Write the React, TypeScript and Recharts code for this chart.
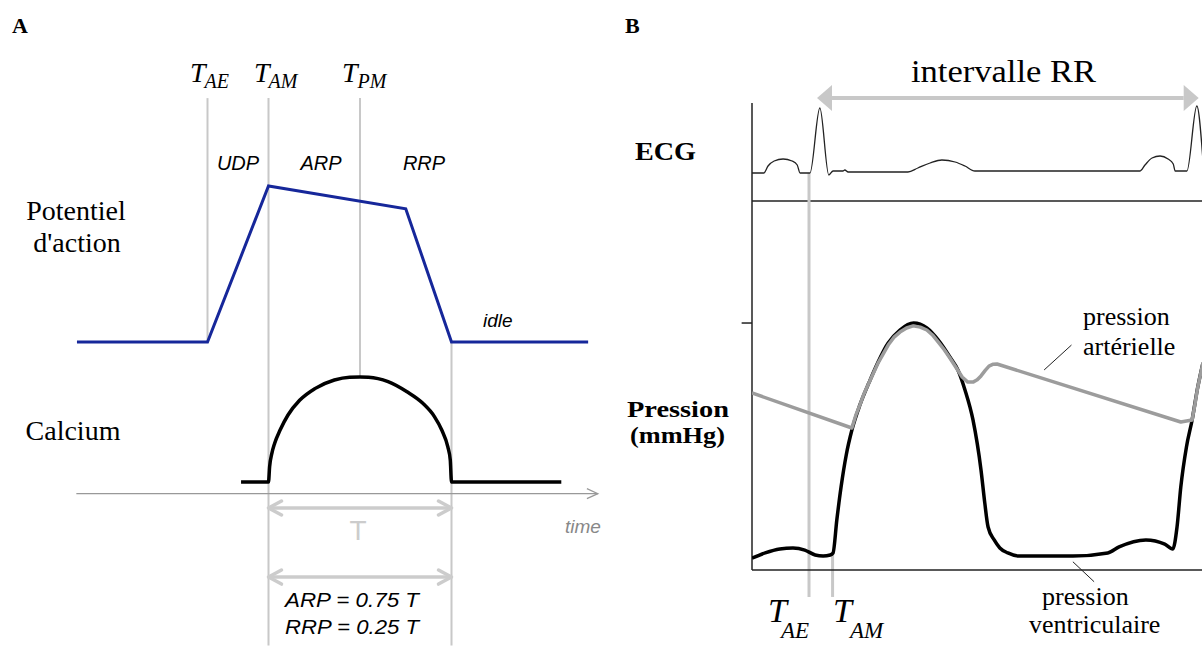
import React from 'react';
import { ComposedChart, Line, XAxis, YAxis, ReferenceLine } from 'recharts';

// ---------- Panel A : schematic action potential (ms, mV) and calcium (µM) ----------
const apTime = [-214, 0, 100, 325, 400, 624];
const apValue = [-85, -85, 25, 9, -85, -85];

const caTime = [55, 100, 101.8, 105.5, 110, 119, 132, 151, 176, 208, 233, 250, 264, 296, 327, 353, 372, 384, 394, 398, 400, 580];
const caValue = [0.1, 0.1, 0.23, 0.345, 0.43, 0.545, 0.674, 0.8, 0.9, 0.974, 0.998, 1.0, 0.998, 0.96, 0.873, 0.774, 0.66, 0.545, 0.4, 0.288, 0.1, 0.1];

// event times in panel A (ms): T_AE, T_AM, T_PM, end of RRP
const tAE = 0;
const tAM = 100;
const tPM = 250;
const tEnd = 400;
const timeAxisStart = -215;
const timeAxisEnd = 640;

// ---------- Panel B : ECG (mV) and pressures (mmHg) over one RR interval (ms) ----------
const ecgTime = [0, 25, 34, 47, 66, 85, 96, 102, 123, 144, 163, 172, 193, 197, 204, 331, 352, 378, 403, 431, 452, 473, 823, 834, 849, 866, 883, 894, 898, 923, 944, 957];
const ecgValue = [0, 0, 0.14, 0.24, 0.28, 0.24, 0.16, 0, 0, 1.3, -0.04, 0.04, 0.04, 0.06, 0.02, 0.02, 0.1, 0.2, 0.26, 0.22, 0.14, 0.04, 0.04, 0.16, 0.3, 0.34, 0.28, 0.18, 0.04, 0.04, 1.34, 0.26];

const ventTime = [0, 28, 59, 87, 112, 134, 151, 166, 172, 180, 189, 200, 212, 229, 248, 289, 314, 343, 371, 395, 420, 437, 452, 469, 486, 494, 501, 514, 526, 543, 567, 681, 755, 779, 836, 876, 893, 902, 910, 922, 934, 946, 957];
const ventValue = [5.8, 8.3, 10.2, 10.7, 9.7, 7.3, 6.8, 7.3, 8.3, 24.3, 40.3, 55.9, 68, 80.2, 90.9, 110.3, 116.6, 120, 117.6, 111.8, 103.5, 97.2, 87.5, 72.9, 48.6, 32.6, 20.9, 14.6, 10.7, 8.3, 6.8, 6.8, 8.3, 11.2, 14.6, 12.6, 10.2, 20.9, 40.3, 59.8, 72.9, 88.9, 100.6];

const artTime = [0, 212, 220, 229, 238, 248, 268, 289, 301, 314, 328, 342, 357, 371, 383, 395, 408, 420, 433, 446, 458, 469, 478, 486, 495, 503, 512, 520, 910, 934, 940, 946, 957];
const artValue = [86, 69, 75, 80.2, 85.8, 90.9, 100.8, 109.3, 113, 115.6, 117.6, 118.6, 118, 116.6, 114.2, 110.8, 107, 103, 98.4, 93.8, 91.3, 91.3, 92.4, 94.3, 97, 99.1, 100, 100.1, 71.9, 72.9, 80.5, 88.9, 100.6];

const rPeak1 = 138;
const rPeak2 = 948;
const tAE_B = 121;
const tAM_B = 171;
const pressureTick = [120];

const zip = (ts: number[], vs: number[]) => ts.map((t, i) => ({ t, v: vs[i] }));
const apData = zip(apTime, apValue);
const caData = zip(caTime, caValue);
const ecgData = zip(ecgTime, ecgValue);
const ventData = zip(ventTime, ventValue);
const artData = zip(artTime, artValue);

const SERIF = "'Liberation Serif', 'Times New Roman', serif";
const SANS = "'Liberation Sans', Arial, sans-serif";
const LIGHT = '#c8c8c8';

// ---------- arrow shapes for ReferenceLine segments ----------
const openArrowEnd = (color: string, w: number, len: number, half: number) => (p: any) => {
  const { x1, y1, x2, y2 } = p;
  return (
    <g>
      <line x1={x1} y1={y1} x2={x2} y2={y2} stroke={color} strokeWidth={w} />
      <polyline points={`${x2 - len},${y2 - half} ${x2},${y2} ${x2 - len},${y2 + half}`} fill="none" stroke={color} strokeWidth={w} />
    </g>
  );
};

const openDoubleArrow = (color: string, w: number, len: number, half: number) => (p: any) => {
  const { x1, y1, x2, y2 } = p;
  return (
    <g>
      <line x1={x1 + 1} y1={y1} x2={x2 - 1} y2={y2} stroke={color} strokeWidth={w} />
      <polyline points={`${x2 - len},${y2 - half} ${x2},${y2} ${x2 - len},${y2 + half}`} fill="none" stroke={color} strokeWidth={w} strokeLinejoin="round" strokeLinecap="round" />
      <polyline points={`${x1 + len},${y1 - half} ${x1},${y1} ${x1 + len},${y1 + half}`} fill="none" stroke={color} strokeWidth={w} strokeLinejoin="round" strokeLinecap="round" />
    </g>
  );
};

const filledDoubleArrow = (color: string, w: number, len: number, half: number) => (p: any) => {
  const { x1, y1, x2, y2 } = p;
  return (
    <g>
      <line x1={x1 + len} y1={y1} x2={x2 - len} y2={y2} stroke={color} strokeWidth={w} />
      <polygon points={`${x2 - len},${y2 - half} ${x2},${y2} ${x2 - len},${y2 + half}`} fill={color} />
      <polygon points={`${x1 + len},${y1 - half} ${x1},${y1} ${x1 + len},${y1 + half}`} fill={color} />
    </g>
  );
};

const NoTickLabel = () => <g />;

function PanelA() {
  return (
    <div style={{ position: 'absolute', left: 55, top: 0 }}>
      <ComposedChart width={549} height={646} margin={{ top: 0, right: 0, bottom: 0, left: 0 }}>
        <XAxis dataKey="t" type="number" domain={[-250, 650]} allowDataOverflow hide />
        <YAxis yAxisId="ap" type="number" domain={[-299.4, 156.2]} allowDataOverflow hide />
        <YAxis yAxisId="ca" type="number" domain={[-1.306, 4.231]} allowDataOverflow hide />

        <ReferenceLine yAxisId="ap" ifOverflow="visible" stroke={LIGHT} strokeWidth={2}
          segment={[{ x: tAE, y: 87 }, { x: tAE, y: -85 }]} />
        <ReferenceLine yAxisId="ap" ifOverflow="visible" stroke={LIGHT} strokeWidth={2}
          segment={[{ x: tAM, y: 87 }, { x: tAM, y: -299 }]} />
        <ReferenceLine yAxisId="ap" ifOverflow="visible" stroke={LIGHT} strokeWidth={2}
          segment={[{ x: tPM, y: 87 }, { x: tPM, y: -109.5 }]} />
        <ReferenceLine yAxisId="ap" ifOverflow="visible" stroke={LIGHT} strokeWidth={2}
          segment={[{ x: tEnd, y: -85 }, { x: tEnd, y: -299 }]} />

        <ReferenceLine yAxisId="ca" ifOverflow="visible"
          segment={[{ x: timeAxisStart, y: 0 }, { x: timeAxisEnd, y: 0 }]}
          shape={openArrowEnd('#999999', 1.2, 11, 5)} />
        <ReferenceLine yAxisId="ca" ifOverflow="visible"
          segment={[{ x: tAM, y: -0.123 }, { x: tEnd, y: -0.123 }]}
          shape={openDoubleArrow('#cccccc', 3.5, 13, 7)} />
        <ReferenceLine yAxisId="ca" ifOverflow="visible"
          segment={[{ x: tAM, y: -0.715 }, { x: tEnd, y: -0.715 }]}
          shape={openDoubleArrow('#cccccc', 3.5, 13, 7)} />

        <Line yAxisId="ap" data={apData} dataKey="v" type="linear" stroke="#16279a" strokeWidth={3}
          dot={false} isAnimationActive={false} strokeLinejoin="miter" />
        <Line yAxisId="ca" data={caData} dataKey="v" type="monotone" stroke="#000000" strokeWidth={3.5}
          dot={false} isAnimationActive={false} strokeLinejoin="miter" />
      </ComposedChart>
    </div>
  );
}

function PanelB() {
  return (
    <div style={{ position: 'absolute', left: 732, top: 73 }}>
      <ComposedChart width={470} height={527} margin={{ top: 30, right: 0, bottom: 0, left: 0 }}>
        <XAxis dataKey="t" type="number" domain={[0, 955]} allowDataOverflow tick={false} tickLine={false}
          axisLine={{ stroke: '#222', strokeWidth: 1.5 }} height={30} />
        <YAxis yAxisId="p" type="number" domain={[0, 226.9]} allowDataOverflow ticks={pressureTick} interval={0}
          tick={NoTickLabel} tickSize={10} width={20} axisLine={{ stroke: '#222', strokeWidth: 1.5 }}
          tickLine={{ stroke: '#222', strokeWidth: 1.5 }} />
        <YAxis yAxisId="ecg" type="number" domain={[-7.94, 1.4]} allowDataOverflow hide />

        {/* left axis line and the single pressure tick */}
        <ReferenceLine yAxisId="p" x={0} stroke="#222" strokeWidth={1.5} />
        <ReferenceLine yAxisId="p" ifOverflow="visible" stroke="#222" strokeWidth={1.5}
          segment={[{ x: -22, y: pressureTick[0] }, { x: 0, y: pressureTick[0] }]} />

        <ReferenceLine yAxisId="ecg" y={-0.56} stroke="#222" strokeWidth={1.5} />
        <ReferenceLine yAxisId="ecg" ifOverflow="visible"
          segment={[{ x: rPeak1, y: 1.5 }, { x: rPeak2, y: 1.5 }]}
          shape={filledDoubleArrow(LIGHT, 4, 15, 13)} />

        <ReferenceLine yAxisId="p" ifOverflow="visible" stroke={LIGHT} strokeWidth={3}
          segment={[{ x: tAE_B, y: 192.9 }, { x: tAE_B, y: -13.1 }]} />
        <ReferenceLine yAxisId="p" ifOverflow="visible" stroke={LIGHT} strokeWidth={3}
          segment={[{ x: tAM_B, y: 8.3 }, { x: tAM_B, y: -13.1 }]} />

        <ReferenceLine yAxisId="p" ifOverflow="visible" stroke="#222" strokeWidth={1}
          segment={[{ x: 620, y: 97.2 }, { x: 678, y: 109.3 }]} />
        <ReferenceLine yAxisId="p" ifOverflow="visible" stroke="#222" strokeWidth={1}
          segment={[{ x: 681, y: 4.0 }, { x: 726, y: -5.7 }]} />

        <Line yAxisId="ecg" data={ecgData} dataKey="v" type="monotone" stroke="#222" strokeWidth={1.3}
          dot={false} isAnimationActive={false} />
        <Line yAxisId="p" data={ventData} dataKey="v" type="monotone" stroke="#000" strokeWidth={3.5}
          dot={false} isAnimationActive={false} />
        <Line yAxisId="p" data={artData} dataKey="v" type="linear" stroke="#9c9c9c" strokeWidth={3.5}
          dot={false} isAnimationActive={false} strokeLinejoin="round" />
      </ComposedChart>
    </div>
  );
}

function Labels() {
  const it = { fontStyle: 'italic' as const };
  return (
    <svg width={1202} height={646} style={{ position: 'absolute', left: 0, top: 0, pointerEvents: 'none' }}>
      {/* Panel A */}
      <text x={12} y={33} fontFamily={SERIF} fontWeight="bold" fontSize={22}>A</text>
      <text x={190} y={82} fontFamily={SERIF} fontSize={28} style={it}>T<tspan dy={6} dx={-1} fontSize={20}>AE</tspan></text>
      <text x={254} y={82} fontFamily={SERIF} fontSize={28} style={it}>T<tspan dy={6} dx={-1} fontSize={20}>AM</tspan></text>
      <text x={342} y={82} fontFamily={SERIF} fontSize={28} style={it}>T<tspan dy={6} dx={0} fontSize={20}>PM</tspan></text>
      <text x={238} y={170} fontFamily={SANS} fontSize={20} style={it} textAnchor="middle">UDP</text>
      <text x={321} y={170} fontFamily={SANS} fontSize={20} style={it} textAnchor="middle">ARP</text>
      <text x={424} y={170} fontFamily={SANS} fontSize={20} style={it} textAnchor="middle">RRP</text>
      <text x={483} y={327} fontFamily={SANS} fontSize={19} style={it}>idle</text>
      <text x={76} y={220} fontFamily={SERIF} fontSize={28} textAnchor="middle">Potentiel</text>
      <text x={77} y={252} fontFamily={SERIF} fontSize={28} textAnchor="middle">d'action</text>
      <text x={73} y={440} fontFamily={SERIF} fontSize={28} textAnchor="middle">Calcium</text>
      <text x={565} y={533} fontFamily={SANS} fontSize={19} style={it} fill="#888">time</text>
      <text x={358} y={540} fontFamily={SANS} fontSize={28} fill="#cccccc" textAnchor="middle">T</text>
      <text x={285} y={607} fontFamily={SANS} fontSize={20} style={it} textLength={134} lengthAdjust="spacingAndGlyphs">ARP = 0.75 T</text>
      <text x={285} y={634} fontFamily={SANS} fontSize={20} style={it} textLength={134} lengthAdjust="spacingAndGlyphs">RRP = 0.25 T</text>

      {/* Panel B */}
      <text x={625} y={33} fontFamily={SERIF} fontWeight="bold" fontSize={22}>B</text>
      <text x={911} y={82} fontFamily={SERIF} fontSize={31} textLength={185} lengthAdjust="spacingAndGlyphs">intervalle RR</text>
      <text x={635} y={160} fontFamily={SERIF} fontWeight="bold" fontSize={26} textLength={61} lengthAdjust="spacingAndGlyphs">ECG</text>
      <text x={627} y={417} fontFamily={SERIF} fontWeight="bold" fontSize={23} textLength={102} lengthAdjust="spacingAndGlyphs">Pression</text>
      <text x={630} y={443} fontFamily={SERIF} fontWeight="bold" fontSize={23} textLength={95} lengthAdjust="spacingAndGlyphs">(mmHg)</text>
      <text x={1083} y={325} fontFamily={SERIF} fontSize={26}>pression</text>
      <text x={1083} y={355} fontFamily={SERIF} fontSize={26}>artérielle</text>
      <text x={1042} y={605} fontFamily={SERIF} fontSize={26}>pression</text>
      <text x={1029} y={633} fontFamily={SERIF} fontSize={26}>ventriculaire</text>
      <text x={768} y={622} fontFamily={SERIF} fontSize={34} style={it}>T<tspan dy={16} dx={-6} fontSize={23}>AE</tspan></text>
      <text x={833} y={622} fontFamily={SERIF} fontSize={34} style={it}>T<tspan dy={16} dx={-2} fontSize={23}>AM</tspan></text>
    </svg>
  );
}

export default function App() {
  return (
    <div style={{ position: 'absolute', left: 0, top: 0, width: 1202, height: 646, background: '#ffffff', overflow: 'hidden' }}>
      <PanelA />
      <PanelB />
      <Labels />
    </div>
  );
}
